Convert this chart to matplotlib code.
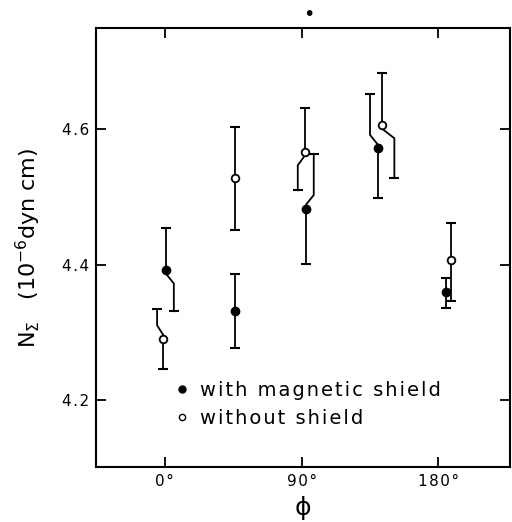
import matplotlib
matplotlib.use("Agg")
import matplotlib.pyplot as plt
from matplotlib.lines import Line2D

# with magnetic shield (filled)
phi_filled = [1, 46, 93, 140, 185]
n_filled = [4.392, 4.331, 4.483, 4.572, 4.359]
lo_filled = [4.331, 4.277, 4.401, 4.498, 4.336]
hi_filled = [4.454, 4.386, 4.563, 4.652, 4.380]
jog_side_filled = ["lo", None, "hi", "hi", None]
jog_dx_filled = [5, 0, 5, -5, 0]

# without shield (open)
phi_open = [-1, 46, 92, 143, 188]
n_open = [4.290, 4.528, 4.567, 4.607, 4.407]
lo_open = [4.246, 4.451, 4.510, 4.528, 4.346]
hi_open = [4.334, 4.604, 4.632, 4.683, 4.461]
jog_side_open = ["hi", None, "lo", "lo", None]
jog_dx_open = [-4, 0, -4.5, 8, 0]

xticks = [0, 90, 180]
xticklabels = ["0°", "90°", "180°"]
yticks = [4.2, 4.4, 4.6]
labels = ["with magnetic shield", "without shield"]


def spaced(s):
    # the old lettering is widely spaced
    return "\u200a".join(s)


def bars(ax, xs, ys, los, his, sides, dxs):
    for x, y, lo, hi, side, dx in zip(xs, ys, los, his, sides, dxs):
        for end, sgn in ((lo, -1), (hi, 1)):
            if side == ("lo" if sgn < 0 else "hi"):
                px = [x, x, x + dx, x + dx]
                py = [y, y + sgn * 0.006, y + sgn * 0.02, end]
                cx = x + dx
            else:
                px, py, cx = [x, x], [y, end], x
            ax.plot(px, py, color="k", lw=1.3, zorder=2)
            ax.plot([cx], [end], marker="_", ms=6.5, mew=1.5, color="k", zorder=2)


fig = plt.figure(figsize=(5.12, 5.22), dpi=100)
ax = fig.add_axes([0.188, 0.105, 0.808, 0.841])

bars(ax, phi_filled, n_filled, lo_filled, hi_filled, jog_side_filled, jog_dx_filled)
bars(ax, phi_open, n_open, lo_open, hi_open, jog_side_open, jog_dx_open)
ax.plot(phi_filled, n_filled, "o", ls="none", color="k", ms=6, zorder=3)
ax.plot(phi_open, n_open, "o", ls="none", mfc="white", mec="k", mew=1.3, ms=5.5, zorder=3)

ax.set_xlim(-45, 227)
ax.set_ylim(4.1, 4.75)
ax.set_xticks(xticks)
ax.set_xticklabels([spaced(t) for t in xticklabels])
ax.set_yticks(yticks)
ax.set_yticklabels([spaced(f"{v:.1f}") for v in yticks])
ax.tick_params(direction="in", length=7, width=1.3, labelsize=11, pad=5,
               top=True, right=True)
for s in ax.spines.values():
    s.set_linewidth(1.5)

ax.set_xlabel("ϕ", fontsize=18, labelpad=5)
ax.set_ylabel(r"$\mathregular{N_\Sigma}$   (10$^{-6}$dyn cm)", fontsize=16, labelpad=14)

handles = [Line2D([], [], marker="o", ls="none", color="k", ms=5),
           Line2D([], [], marker="o", ls="none", mfc="white", mec="k", ms=4.5, mew=1)]
ax.legend(handles, [spaced(l) for l in labels], frameon=False, fontsize=14,
          loc="center left", bbox_to_anchor=(0.165, 0.143), handletextpad=0.4,
          labelspacing=0.45, handlelength=1.0, borderaxespad=0)

fig.text(309 / 512, 1 - 14 / 522, "•", fontsize=14, ha="center", va="center")

fig.savefig("out.png", dpi=100)
